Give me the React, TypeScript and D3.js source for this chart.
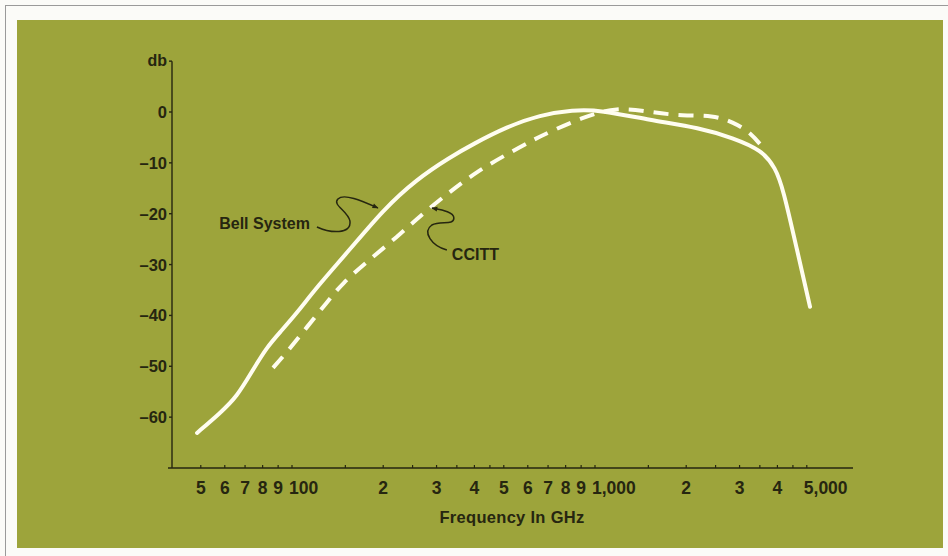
import React from "react";
import * as d3 from "d3";

// frequency (GHz) / attenuation (db)
const bellFreq = [48.6, 57.9, 65.8, 74.3, 82.7, 91.3, 103.9, 120.9, 155, 200, 258, 332, 396, 512, 658, 846, 1039, 1519, 2221, 2854, 3558, 3940, 4174, 4642, 5124];
const bellDb = [-63.1, -59.2, -56.0, -50.7, -46.2, -43.3, -39.5, -34.4, -27.1, -19.2, -13.2, -8.9, -6.3, -2.9, -0.6, 0.4, 0.4, -1.6, -3.1, -5.1, -7.5, -11.0, -15.0, -27.1, -38.3];

const ccittFreq = [86.6, 96.3, 112, 130.5, 147, 177, 222, 271, 332, 405, 512, 624, 710, 913, 1182, 1519, 1951, 2451, 2854, 3248, 3640];
const ccittDb = [-50.3, -47.2, -42.3, -37.4, -33.6, -29.4, -24.6, -19.9, -15.7, -11.8, -8.3, -5.5, -3.9, -1.0, 1.0, 0.0, -0.8, -0.6, -2.0, -3.9, -7.5];

const yTicks = [0, -10, -20, -30, -40, -50, -60];
const xMinorTicks = [50, 60, 70, 80, 90, 100, 150, 200, 250, 300, 350, 400, 450, 500, 600, 700, 800, 900, 1000, 1500, 2000, 2500, 3000, 3500, 4000, 4500, 5000];
const xLabelValues = [50, 60, 70, 80, 90, 100, 200, 300, 400, 500, 600, 700, 800, 900, 1000, 2000, 3000, 4000, 5000];
const xLabelText = ["5", "6", "7", "8", "9", "100", "2", "3", "4", "5", "6", "7", "8", "9", "1,000", "2", "3", "4", "5,000"];

const W = 948;
const H = 556;
const GREEN = "#9da43b";
const INK = "#262610";
const FONT = "'Liberation Sans', Arial, sans-serif";

export default function App() {
  const x = d3.scaleLog().domain([100, 1000]).range([292, 595]);
  const y = d3.scaleLinear().domain([0, -70]).range([112, 468]);

  const line = d3
    .line<[number, number]>()
    .x((d) => x(d[0]))
    .y((d) => y(d[1]))
    .curve(d3.curveBasis);

  const bell = line(bellFreq.map((f, i) => [f, bellDb[i]] as [number, number])) || "";
  const ccitt = line(ccittFreq.map((f, i) => [f, ccittDb[i]] as [number, number])) || "";

  const x0 = 168;
  const x1 = 853;
  const yAxisTop = y(10);
  const yAxisBottom = y(-70);

  // annotation anchors in data space
  const bellLab = [x(114.6), y(-23)];
  const ccLab = [x(337), y(-29.1)];

  return (
    <svg
      width={W}
      height={H}
      style={{ position: "absolute", left: 0, top: 0, display: "block" }}
      fontFamily={FONT}
    >
      <defs>
        <marker id="ah" viewBox="0 0 10 10" refX="9" refY="5" markerWidth="7" markerHeight="6" orient="auto" markerUnits="userSpaceOnUse">
          <path d="M0,1 L10,5 L0,9 z" fill={INK} />
        </marker>
      </defs>
      <rect x={0} y={0} width={W} height={H} fill="#fbfbf8" />
      <rect x={5.5} y={5.5} width={W} height={H} fill="none" stroke="#9a9a9a" strokeWidth={1} />
      <rect x={17} y={20} width={926} height={528} fill={GREEN} />

      {/* y axis */}
      <line x1={172} x2={172} y1={yAxisTop} y2={yAxisBottom} stroke={INK} strokeWidth={1.4} />
      <line x1={169} x2={172} y1={yAxisTop} y2={yAxisTop} stroke={INK} strokeWidth={1.4} />
      <text x={167} y={yAxisTop + 5} textAnchor="end" fontSize={16} fontWeight="bold" fill={INK}>
        db
      </text>
      {yTicks.map((t) => (
        <g key={t}>
          <line x1={169} x2={172} y1={y(t)} y2={y(t)} stroke={INK} strokeWidth={1.4} />
          <text x={167} y={y(t) + 6} textAnchor="end" fontSize={16.5} fontWeight="bold" fill={INK}>
            {t < 0 ? "–" + Math.abs(t) : t}
          </text>
        </g>
      ))}

      {/* x axis */}
      <line x1={x0} x2={x1} y1={yAxisBottom} y2={yAxisBottom} stroke={INK} strokeWidth={1.4} />
      {xMinorTicks.map((t) => (
        <line key={t} x1={x(t)} x2={x(t)} y1={yAxisBottom - 3} y2={yAxisBottom} stroke={INK} strokeWidth={1.2} />
      ))}
      {xLabelValues.map((v, i) => {
        const wide = xLabelText[i].length > 1;
        return (
          <text
            key={v}
            x={x(v) + (wide ? -3 : 0)}
            y={494}
            textAnchor={wide ? "start" : "middle"}
            fontSize={17.5}
            fontWeight="bold"
            fill={INK}
          >
            {xLabelText[i]}
          </text>
        );
      })}
      <text x={512} y={523} textAnchor="middle" fontSize={16.5} fontWeight="bold" fill={INK} letterSpacing={0.3}>
        Frequency In GHz
      </text>

      {/* curves */}
      <path d={bell} fill="none" stroke="#fffdf0" strokeWidth={4} strokeLinecap="round" />
      <path d={ccitt} fill="none" stroke="#fffdf0" strokeWidth={4} strokeDasharray="15 10" strokeLinecap="butt" />

      {/* annotations */}
      <g transform={`translate(${bellLab[0]},${bellLab[1]})`}>
        <text x={0} y={0} textAnchor="end" fontSize={16} fontWeight="bold" fill={INK}>
          Bell System
        </text>
        <path
          d="M7,-2 C20,4 42,6 40,-8 C38,-18 22,-24 28,-30 C34,-36 52,-28 68,-21"
          fill="none"
          stroke={INK}
          strokeWidth={1.5}
          markerEnd="url(#ah)"
        />
      </g>
      <g transform={`translate(${ccLab[0]},${ccLab[1]})`}>
        <text x={0} y={0} textAnchor="start" fontSize={16} fontWeight="bold" fill={INK}>
          CCITT
        </text>
        <path
          d="M-5,-10 C-20,-14 -30,-28 -20,-35 C-12,-40 2,-34 2,-42 C2,-48 -10,-50 -20,-52"
          fill="none"
          stroke={INK}
          strokeWidth={1.5}
          markerEnd="url(#ah)"
        />
      </g>
    </svg>
  );
}
